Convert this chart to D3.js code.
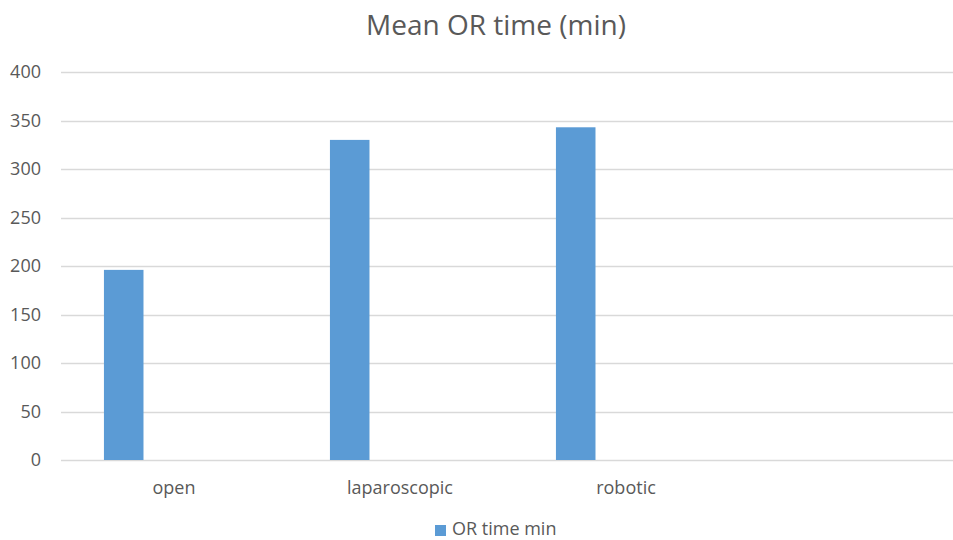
<!DOCTYPE html>
<html>
<head>
<meta charset="utf-8">
<script src="https://cdn.jsdelivr.net/npm/d3@7/dist/d3.min.js"></script>
<style>
  html, body { margin: 0; padding: 0; background: #ffffff; }
  svg { display: block; }
  text { font-family: "Open Sans", "Noto Sans", sans-serif; fill: #595959; }
</style>
</head>
<body>
<svg id="chart" width="953" height="540"></svg>
<script>
// Mean operating-room time by surgical approach
const categories = ["open", "laparoscopic", "robotic", ""];
const orTimeMin = [196, 330, 343, null];
const yTicks = [0, 50, 100, 150, 200, 250, 300, 350, 400];
const seriesName = "OR time min";
const chartTitle = "Mean OR time (min)";

const width = 953, height = 540;
const margin = { top: 72, right: 0, bottom: 80, left: 61 };

const svg = d3.select("#chart");

const y = d3.scaleLinear()
  .domain([0, 400])
  .range([height - margin.bottom, margin.top]);

const x = d3.scaleBand()
  .domain(categories)
  .range([margin.left, margin.left + 226 * categories.length])
  .padding(0);

// gridlines
svg.append("g")
  .selectAll("line")
  .data(yTicks)
  .join("line")
  .attr("x1", margin.left)
  .attr("x2", width)
  .attr("y1", d => Math.round(y(d)) + 0.5)
  .attr("y2", d => Math.round(y(d)) + 0.5)
  .attr("stroke", "#d9d9d9")
  .attr("stroke-width", 1.3);

// y-axis labels
svg.append("g")
  .selectAll("text")
  .data(yTicks)
  .join("text")
  .attr("x", 41)
  .attr("y", d => y(d))
  .attr("dy", "0.35em")
  .attr("text-anchor", "end")
  .style("font-size", "18px")
  .text(d => d);

// bars
const rows = categories.map((c, i) => ({ cat: c, value: orTimeMin[i] }))
  .filter(d => d.value != null);

svg.append("g")
  .selectAll("rect")
  .data(rows)
  .join("rect")
  .attr("x", d => x(d.cat) + x.bandwidth() * 0.19)
  .attr("width", x.bandwidth() * 0.175)
  .attr("y", d => y(d.value))
  .attr("height", d => y(0) - y(d.value))
  .attr("fill", "#5b9bd5");

// category labels
svg.append("g")
  .selectAll("text")
  .data(categories.filter(c => c !== ""))
  .join("text")
  .attr("x", d => x(d) + x.bandwidth() / 2)
  .attr("y", 494)
  .attr("text-anchor", "middle")
  .style("font-size", "18px")
  .text(d => d);

// title
svg.append("text")
  .attr("x", 496)
  .attr("y", 35)
  .attr("text-anchor", "middle")
  .style("font-size", "28px")
  .text(chartTitle);

// legend
const legend = svg.append("g");
legend.append("rect")
  .attr("x", 435).attr("y", 525)
  .attr("width", 11).attr("height", 11)
  .attr("fill", "#5b9bd5");
legend.append("text")
  .attr("x", 452).attr("y", 535)
  .style("font-size", "18px")
  .text(seriesName);
</script>
</body>
</html>
